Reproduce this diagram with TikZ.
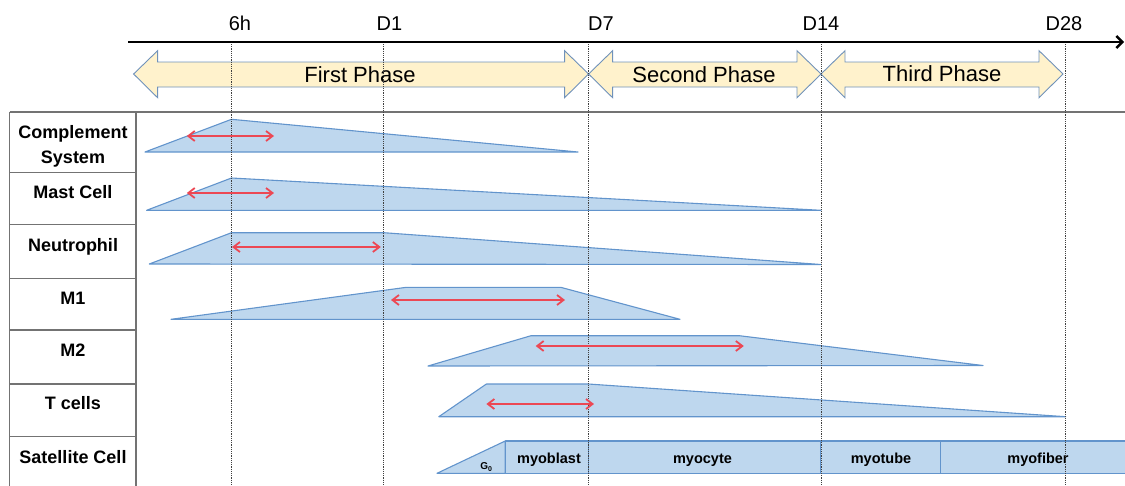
\documentclass[tikz,border=0pt]{standalone}
\usepackage{fontspec}
\setmainfont{Liberation Sans}
\usetikzlibrary{arrows.meta}
\definecolor{tri}{RGB}{190,215,238}
\definecolor{triline}{RGB}{98,148,204}
\definecolor{phasefill}{RGB}{255,242,204}
\definecolor{phaseline}{RGB}{112,146,186}
\definecolor{redarr}{RGB}{236,72,84}
\definecolor{gridc}{RGB}{115,115,115}
\newcommand\phasearrow[2]{%
  \draw[phase] (#1,74) -- (#1+24,50.7) -- (#1+24,62) -- (#2-24,62) -- (#2-24,50.7) -- (#2,74)
    -- (#2-24,97.7) -- (#2-24,87) -- (#1+24,87) -- (#1+24,97.7) -- cycle;}
\begin{document}
\begin{tikzpicture}[x=1pt,y=-1pt,
  curve/.style={fill=tri, draw=triline, line width=1.1pt, line join=round},
  divider/.style={draw=triline, line width=1pt},
  phase/.style={fill=phasefill, draw=phaseline, line width=0.9pt, line join=miter},
  guide/.style={draw=black!75, line width=0.7pt, dash pattern=on 1.2pt off 1pt},
  span/.style={draw=redarr, line width=1.8pt, {Straight Barb[length=6.5pt,width=10pt]}-{Straight Barb[length=6.5pt,width=10pt]}},
  rowlab/.style={font=\fontsize{18}{25}\selectfont\bfseries, align=center, inner sep=0, anchor=base},
  rowlabtwo/.style={font=\fontsize{18}{25}\selectfont\bfseries, align=center, inner sep=0},
  tick/.style={font=\fontsize{20}{22}\selectfont, inner sep=0, anchor=base},
  phasetxt/.style={font=\fontsize{22}{24}\selectfont, inner sep=0, anchor=base},
  stage/.style={font=\fontsize{14.5}{16}\selectfont\bfseries, inner sep=0, anchor=base},
  frame/.style={draw=gridc, line width=1.5pt}
]
\useasboundingbox (0,0) rectangle (1125,485);

% time axis
\coordinate (axL) at (128,42);
\coordinate (axR) at (1124,42);
\draw[line width=2.4pt, -{Straight Barb[length=6pt,width=12pt]}] (axL) -- (axR);
\node[tick] (t6h) at (240,30.2) {6h};
\node[tick] (tD1) at (389.5,30.2) {D1};
\node[tick] (tD7) at (601,30.2) {D7};
\node[tick] (tD14) at (821,30.2) {D14};
\node[tick] (tD28) at (1064,30.2) {D28};

% phase arrows
\phasearrow{133.6}{588.6}
\phasearrow{588.6}{821}
\phasearrow{821}{1063}
\node[phasetxt] (ph1) at (360,82.9) {First Phase};
\node[phasetxt] (ph2) at (704,82.9) {Second Phase};
\node[phasetxt] (ph3) at (942,81) {Third Phase};

% table frame
\coordinate (tl) at (9.6,112);
\coordinate (tr) at (1125,112);
\draw[frame] (tl) -- (tr);
\draw[frame] (9.6,112) -- (9.6,486);
\draw[frame] (136,112) -- (136,486);
\foreach \yy in {172.3,224.3,278.3,330,384,436.7}
  \draw[frame] (9.6,\yy) -- (136,\yy);

% row labels
\node[rowlabtwo] (lcs) at (73,146) {Complement\\System};
\node[rowlab] (lmc) at (73,198.1) {Mast Cell};
\node[rowlab] (lne) at (73,251.4) {Neutrophil};
\node[rowlab] (lm1) at (73,304.4) {M1};
\node[rowlab] (lm2) at (73,356.9) {M2};
\node[rowlab] (ltc) at (73,409.9) {T cells};
\node[rowlab] (lsc) at (73,463.1) {Satellite Cell};

% activity profiles
\draw[curve] (145,152) -- (231.5,119.3) -- (578,152) -- cycle;
\draw[curve] (146.6,210.3) -- (231.5,178) -- (821,210.3) -- cycle;
\draw[curve] (149.3,264) -- (231.5,232.7) -- (383.8,232.7) -- (821,264.5) -- cycle;
\draw[curve] (171,319.3) -- (406.4,287.3) -- (560.7,287.3) -- (680,319.3) -- cycle;
\draw[curve] (428,366) -- (531,335.7) -- (739.3,335.7) -- (983,365.5) -- cycle;
\draw[curve] (438.8,416.7) -- (486.4,384) -- (588.2,384) -- (1065.7,416.7) -- cycle;

% satellite cell stages
\draw[curve] (437,473.3) -- (505.2,441) -- (505.2,473.3) -- cycle;
\draw[curve] (505.2,441) rectangle (1130,473.3);
\draw[divider] (588.5,441) -- (588.5,473.3);
\draw[divider] (820.5,441) -- (820.5,473.3);
\draw[divider] (940,441) -- (940,473.3);
\node[font=\fontsize{10}{11}\selectfont\bfseries, inner sep=0, anchor=base] (g0) at (486.4,469.5) {G\textsubscript{0}};
\node[stage] (smb) at (549,463.3) {myoblast};
\node[stage] (smc) at (702.5,463.3) {myocyte};
\node[stage] (smt) at (881,463.3) {myotube};
\node[stage] (smf) at (1038,463.3) {myofiber};

% dotted guides
\foreach \n/\xx in {g6h/231.5, gD1/383.2, gD7/588.6, gD14/821.2, gD28/1065} {
  \coordinate (\n top) at (\xx,44);
  \coordinate (\n bot) at (\xx,486);
  \draw[guide] (\n top) -- (\n bot);
}

% peak spans
\coordinate (s1a) at (186.8,136); \coordinate (s1b) at (274,136);
\coordinate (s2a) at (186.8,193); \coordinate (s2b) at (274,193);
\coordinate (s3a) at (232,247); \coordinate (s3b) at (380.8,247);
\coordinate (s4a) at (391,300); \coordinate (s4b) at (565,300);
\coordinate (s5a) at (535.7,346); \coordinate (s5b) at (743.8,346);
\coordinate (s6a) at (486.4,404); \coordinate (s6b) at (594,404);
\foreach \i in {1,...,6} \draw[span] (s\i a) -- (s\i b);
\end{tikzpicture}
\end{document}
